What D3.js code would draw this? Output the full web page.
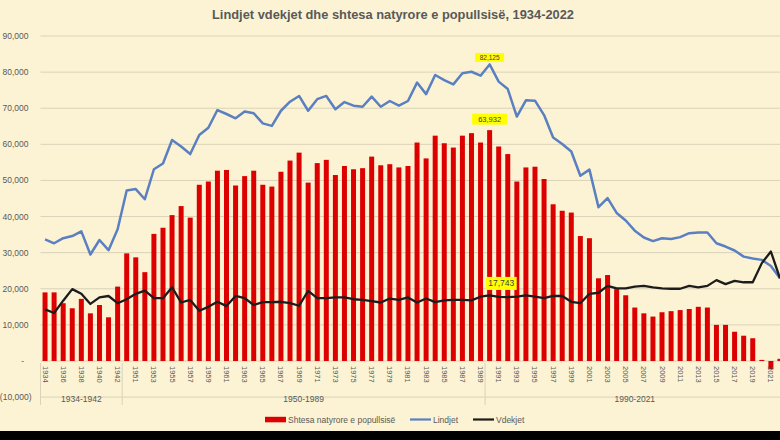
<!DOCTYPE html>
<html>
<head>
<meta charset="utf-8">
<script src="https://cdn.jsdelivr.net/npm/d3@7"></script>
<style>
  html, body { margin: 0; padding: 0; background: #FCF3D4; }
  svg { display: block; }
  text { font-family: "Liberation Sans", Arial, sans-serif; }
</style>
</head>
<body>
<svg id="chart" width="780" height="440"></svg>
<script>
// ---------------- DATA ----------------
const years = [1934,1935,1936,1937,1938,1939,1940,1941,1942,
  1950,1951,1952,1953,1954,1955,1956,1957,1958,1959,
  1960,1961,1962,1963,1964,1965,1966,1967,1968,1969,
  1970,1971,1972,1973,1974,1975,1976,1977,1978,1979,
  1980,1981,1982,1983,1984,1985,1986,1987,1988,1989,
  1990,1991,1992,1993,1994,1995,1996,1997,1998,1999,
  2000,2001,2002,2003,2004,2005,2006,2007,2008,2009,
  2010,2011,2012,2013,2014,2015,2016,2017,2018,2019,
  2020,2021,2022];

// Lindjet (births)
const births = [33700,32600,34000,34600,35900,29500,33500,30700,36500,
  47200,47600,44800,53100,54700,61200,59400,57300,62600,64600,
  69500,68400,67200,69100,68600,65800,65100,69300,71800,73400,
  69300,72500,73400,69700,71700,70700,70400,73200,70400,72000,
  70700,72000,77100,73900,79200,77800,76600,79700,80100,79000,
  82125,77361,75300,67700,72200,72100,68100,61900,60100,58000,
  51300,53000,42600,45100,41000,38900,36100,34200,33200,34000,
  33800,34300,35400,35600,35600,32600,31700,30600,28900,28400,
  28000,26300,22900];

// Vdekjet (deaths)
const deaths = [14300,13300,16700,19900,18600,15800,17600,18000,16000,
  17100,18600,19500,17400,17400,20400,16200,16900,13900,15000,
  16400,15200,18000,17400,15500,16300,16300,16400,16000,15300,
  19400,17400,17400,17600,17600,17100,16900,16600,16200,17300,
  16900,17600,16200,17300,16300,16800,16900,16900,16800,17800,
  18193,17743,17700,17800,18200,17800,17400,18000,18000,16400,
  16000,18600,18900,20800,20100,20100,20600,20800,20400,20100,
  20000,20000,20800,20400,20800,22400,21300,22200,21800,21800,
  27100,30300,22900];

// Shtesa natyrore e popullsisë (natural increase)
const increase = [19000,19000,16000,14600,17200,13200,15500,12100,20600,
  29800,28700,24600,35200,36900,40400,42900,39700,48800,49700,
  52700,52900,48600,51200,52700,48800,48300,52400,55500,57700,
  49400,54800,55700,51500,54000,53100,53400,56600,54200,54500,
  53600,54000,60500,56100,62400,60300,59100,62400,63100,60500,
  63932,59400,57300,49700,53600,53800,50400,43400,41600,41100,
  34600,34000,22900,23800,19900,18200,14800,13200,12300,13500,
  13800,14100,14400,15000,14800,10000,10000,8100,7000,6300,
  300,-2300,600];

const yTicks = [-10000,0,10000,20000,30000,40000,50000,60000,70000,80000,90000];
const yTickLabels = ["(10,000)","-","10,000","20,000","30,000","40,000","50,000","60,000","70,000","80,000","90,000"];

const groups = [
  {label: "1934-1942", from: 1934, to: 1942},
  {label: "1950-1989", from: 1950, to: 1989},
  {label: "1990-2021", from: 1990, to: 2022}
];

const title = "Lindjet vdekjet dhe shtesa natyrore e popullsisë, 1934-2022";
const seriesNames = ["Shtesa natyrore e popullsisë", "Lindjet", "Vdekjet"];
const callouts = [
  {series: "births", year: 1990, text: "82,125"},
  {series: "increase", year: 1990, text: "63,932"},
  {series: "deaths", year: 1991, text: "17,743"}
];

// ---------------- CHART ----------------
const W = 780, H = 440;
const svg = d3.select("#chart");
const C = {red: "#DC0000", blue: "#5A80C2", black: "#1C1C1C", grid: "#DAD2B9", text: "#595959"};

svg.append("rect").attr("width", W).attr("height", H).attr("fill", "#FCF3D4");

const x = d3.scaleBand().domain(years).range([40.5, 784.5]).paddingInner(0.45).paddingOuter(0.225);
const step = x.step();
const cx = yr => x(yr) + x.bandwidth() / 2;
const y = d3.scaleLinear().domain([-10000, 90000]).range([397.1, 36]);

// gridlines
svg.append("g").selectAll("line").data(yTicks).join("line")
  .attr("x1", 40.5).attr("x2", W)
  .attr("y1", d => y(d)).attr("y2", d => y(d))
  .attr("stroke", C.grid).attr("stroke-width", 1);

// y axis labels
svg.append("g").selectAll("text").data(yTicks).join("text")
  .attr("x", d => d < 0 ? 31.5 : (d === 0 ? 24 : 28.5))
  .attr("y", d => y(d) + 3)
  .attr("text-anchor", "end")
  .attr("font-size", 8.5)
  .attr("fill", C.text)
  .text((d, i) => yTickLabels[i]);

// bars
svg.append("g").selectAll("rect").data(years).join("rect")
  .attr("x", d => x(d))
  .attr("width", x.bandwidth())
  .attr("y", (d, i) => y(Math.max(0, increase[i])))
  .attr("height", (d, i) => Math.abs(y(increase[i]) - y(0)))
  .attr("fill", C.red);

// lines
const line = d3.line().x(d => cx(d[0])).y(d => y(d[1]));
svg.append("path").datum(years.map((yr, i) => [yr, births[i]]))
  .attr("d", line).attr("fill", "none").attr("stroke", C.blue)
  .attr("stroke-width", 2.5).attr("stroke-linejoin", "round");
svg.append("path").datum(years.map((yr, i) => [yr, deaths[i]]))
  .attr("d", line).attr("fill", "none").attr("stroke", C.black)
  .attr("stroke-width", 2.3).attr("stroke-linejoin", "round");

// x tick labels (every other category)
svg.append("g").selectAll("text").data(years.filter((d, i) => i % 2 === 0)).join("text")
  .attr("transform", d => `translate(${cx(d)},366) rotate(90)`)
  .attr("dominant-baseline", "central")
  .attr("text-anchor", "start")
  .attr("font-size", 7.5)
  .attr("fill", C.text)
  .text(d => d);

// group separators and labels
const sepX = groups.map(g => x(g.from) - step * 0.225);
svg.append("g").selectAll("line").data(sepX).join("line")
  .attr("x1", d => d).attr("x2", d => d)
  .attr("y1", y(0) + 2).attr("y2", 405)
  .attr("stroke", C.grid).attr("stroke-width", 1);
svg.append("g").selectAll("text").data(groups).join("text")
  .attr("x", g => (cx(g.from) + cx(g.to)) / 2)
  .attr("y", 402)
  .attr("text-anchor", "middle")
  .attr("font-size", 8.5)
  .attr("fill", C.text)
  .text(g => g.label);

// callouts
const seriesMap = {births, deaths, increase};
const calloutStyle = {
  births: {fs: 6.5, w: 29, h: 9, off: 7},
  increase: {fs: 7.5, w: 35, h: 11, off: 11},
  deaths: {fs: 8.5, w: 31, h: 13, off: 13.5}
};
callouts.forEach(c => {
  const i = years.indexOf(c.year);
  const st = calloutStyle[c.series];
  const px = cx(c.year) + (c.series === "deaths" ? 2.5 : 0);
  const py = y(seriesMap[c.series][i]) - st.off;
  svg.append("rect").attr("x", px - st.w / 2).attr("y", py - st.h / 2)
    .attr("width", st.w).attr("height", st.h).attr("fill", "#FFFF00");
  svg.append("text").attr("x", px).attr("y", py)
    .attr("text-anchor", "middle").attr("dominant-baseline", "central")
    .attr("font-size", st.fs).attr("fill", "#404040").text(c.text);
});

// title
svg.append("text").attr("x", 393).attr("y", 19)
  .attr("text-anchor", "middle").attr("font-size", 12.5).attr("font-weight", "bold")
  .attr("fill", C.text).attr("textLength", 362).attr("lengthAdjust", "spacingAndGlyphs")
  .text(title);

// legend
const lg = svg.append("g").attr("font-size", 8.5).attr("fill", C.text);
lg.append("rect").attr("x", 265).attr("y", 416.8).attr("width", 21).attr("height", 5.5).attr("fill", C.red);
lg.append("text").attr("x", 288).attr("y", 422.5).text(seriesNames[0]);
lg.append("line").attr("x1", 410).attr("x2", 431).attr("y1", 419.5).attr("y2", 419.5).attr("stroke", C.blue).attr("stroke-width", 2.2);
lg.append("text").attr("x", 433).attr("y", 422.5).text(seriesNames[1]);
lg.append("line").attr("x1", 473).attr("x2", 494).attr("y1", 419.5).attr("y2", 419.5).attr("stroke", C.black).attr("stroke-width", 2.2);
lg.append("text").attr("x", 496).attr("y", 422.5).text(seriesNames[2]);

// bottom black band
svg.append("rect").attr("x", 0).attr("y", 431).attr("width", W).attr("height", 9).attr("fill", "#000");
</script>
</body>
</html>
